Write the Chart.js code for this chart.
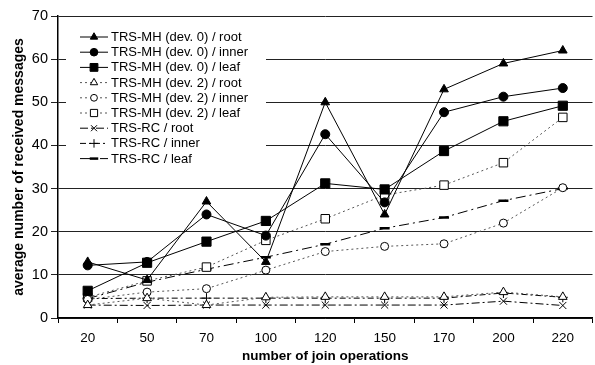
<!DOCTYPE html>
<html>
<head>
<meta charset="utf-8">
<script src="https://cdn.jsdelivr.net/npm/chart.js@4/dist/chart.umd.min.js"></script>
<style>
  html, body { margin: 0; padding: 0; background: #fff; overflow: hidden; }
  #wrap { width: 600px; height: 365px; position: relative; }
</style>
</head>
<body>
<div id="wrap"><canvas id="chart"></canvas></div>
<script>
// join operations on the x axis
const joins = ['20', '50', '70', '100', '120', '150', '170', '200', '220'];

// TRS-MH, deviation 0
const mh0Root  = [13, 8.8, 27, 13, 50, 24, 53, 59, 62];
const mh0Inner = [12.2, 13, 24, 19.1, 42.6, 26.8, 47.7, 51.3, 53.3];
const mh0Leaf  = [6.3, 12.8, 17.7, 22.5, 31.2, 29.8, 38.7, 45.6, 49.2];

// TRS-MH, deviation 2
const mh2Root  = [3, 4.6, 3, 4.8, 4.9, 4.9, 4.9, 6, 4.9];
const mh2Inner = [4.3, 6, 6.8, 11.1, 15.4, 16.6, 17.2, 22, 30.2];
const mh2Leaf  = [4.8, 8.6, 11.8, 18, 23, 28.5, 30.8, 36, 46.5];

// TRS-RC
const rcRoot  = [3, 2.9, 3, 3, 3, 3, 3, 3.9, 2.9];
const rcInner = [4.5, 4.6, 4.6, 4.6, 4.6, 4.6, 4.6, 5.8, 4.8];
const rcLeaf  = [4.5, 8.3, 11.3, 14.1, 17.1, 20.8, 23.3, 27.2, 30];

const yTicks = [0, 10, 20, 30, 40, 50, 60, 70];

function series(label, data, style) {
    return Object.assign({
        label: label,
        data: data,
        borderColor: '#000',
        borderWidth: 1,
        pointBorderColor: '#000',
        pointBorderWidth: 1,
        pointHoverRadius: 0,
        tension: 0,
        fill: false
    }, style);
}

const dotted = [2, 3];
const datasets = [
    series('TRS-MH (dev. 0) / root', mh0Root, {pointStyle: 'triangle', pointRadius: 5, pointBackgroundColor: '#000'}),
    series('TRS-MH (dev. 0) / inner', mh0Inner, {pointStyle: 'circle', pointRadius: 4.5, pointBackgroundColor: '#000'}),
    series('TRS-MH (dev. 0) / leaf', mh0Leaf, {pointStyle: 'rect', pointRadius: 6.5, pointBackgroundColor: '#000'}),
    series('TRS-MH (dev. 2) / root', mh2Root, {pointStyle: 'triangle', pointRadius: 5, pointBackgroundColor: '#fff', borderColor: '#555', borderDash: dotted}),
    series('TRS-MH (dev. 2) / inner', mh2Inner, {pointStyle: 'circle', pointRadius: 4, pointBackgroundColor: '#fff', borderColor: '#555', borderDash: dotted}),
    series('TRS-MH (dev. 2) / leaf', mh2Leaf, {pointStyle: 'rect', pointRadius: 6, pointBackgroundColor: '#fff', borderColor: '#555', borderDash: dotted}),
    series('TRS-RC / root', rcRoot, {pointStyle: 'crossRot', pointRadius: 5, borderDash: [8, 3, 2, 3]}),
    series('TRS-RC / inner', rcInner, {pointStyle: 'cross', pointRadius: 5, borderDash: [6, 3, 2, 3]}),
    series('TRS-RC / leaf', rcLeaf, {pointStyle: 'line', pointRadius: 5, pointBorderWidth: 2.5, borderDash: [10, 4, 2, 4]})
];

// legend box with line samples, drawn over the grid
const boxLegend = {
    id: 'boxLegend',
    beforeDatasetsDraw(chart) {
        const ctx = chart.ctx;
        ctx.save();
        ctx.fillStyle = '#fff';
        ctx.fillRect(66, 24, 200, 148);
        ctx.font = '13px "Liberation Sans", Arial, sans-serif';
        ctx.textBaseline = 'middle';
        chart.data.datasets.forEach((ds, i) => {
            const y = 37 + i * 15.2;
            ctx.setLineDash(ds.borderDash || []);
            ctx.strokeStyle = ds.borderColor;
            ctx.lineWidth = 1;
            ctx.beginPath();
            ctx.moveTo(80, y);
            ctx.lineTo(108, y);
            ctx.stroke();
            ctx.setLineDash([]);
            ctx.strokeStyle = '#000';
            ctx.fillStyle = ds.pointBackgroundColor || '#000';
            ctx.lineWidth = ds.pointBorderWidth;
            Chart.helpers.drawPoint(ctx, {
                pointStyle: ds.pointStyle,
                radius: ds.pointRadius * 0.85,
                borderWidth: ds.pointBorderWidth,
                rotation: 0
            }, 94, y);
            ctx.fillStyle = '#000';
            ctx.fillText(ds.label, 111, y + 0.5);
        });
        ctx.restore();
    }
};

Chart.defaults.font.family = '"Liberation Sans", Arial, sans-serif';
Chart.defaults.font.size = 13;
Chart.defaults.color = '#000';

new Chart(document.getElementById('chart').getContext('2d'), {
    type: 'line',
    data: { labels: joins, datasets: datasets },
    options: {
        responsive: true,
        maintainAspectRatio: false,
        animation: false,
        layout: { padding: { top: 16, right: 2, left: 0, bottom: 0 } },
        plugins: {
            legend: { display: false },
            tooltip: { enabled: false }
        },
        scales: {
            x: {
                offset: true,
                grid: {
                    offset: true,
                    drawOnChartArea: false,
                    tickLength: 5,
                    color: '#000'
                },
                border: { color: '#000', width: 1.5 },
                ticks: { padding: 7, maxRotation: 0, font: { size: 13.5 } },
                title: {
                    display: true,
                    text: 'number of join operations',
                    font: { size: 13.5, weight: 'bold' },
                    padding: { top: 0, bottom: 1 }
                },
                afterFit(scale) { scale.height = 47; }
            },
            y: {
                min: 0,
                max: 70,
                afterBuildTicks(scale) { scale.ticks = yTicks.map(v => ({ value: v })); },
                grid: { color: '#222', tickLength: 7, lineWidth: 1 },
                border: { color: '#000', width: 1.5 },
                ticks: { padding: 3, font: { size: 14.5 } },
                title: {
                    display: true,
                    text: 'average number of received messages',
                    font: { size: 14, weight: 'bold' },
                    padding: { top: 11, bottom: 0 }
                },
                afterFit(scale) { scale.width = 58; }
            }
        }
    },
    plugins: [boxLegend]
});
</script>
</body>
</html>
